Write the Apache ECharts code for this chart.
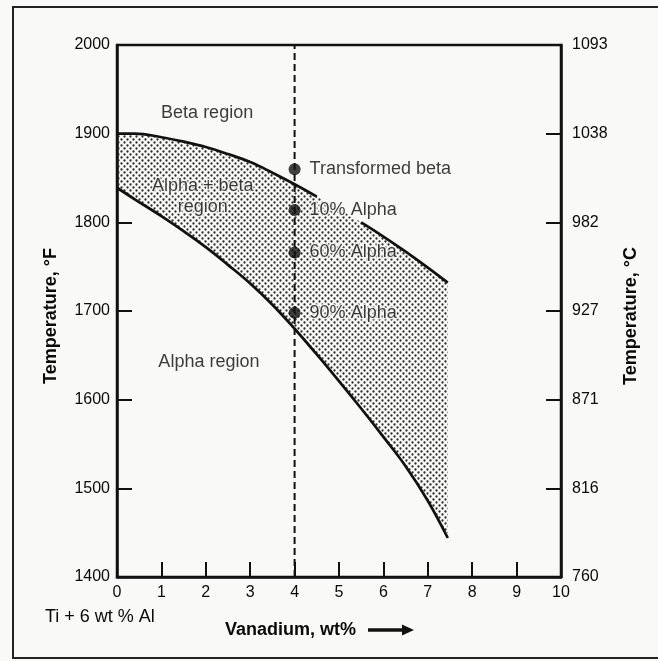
<!DOCTYPE html>
<html>
<head>
<meta charset="utf-8">
<script src="https://cdn.jsdelivr.net/npm/echarts@6/dist/echarts.min.js"></script>
<style>
html,body{margin:0;padding:0;background:#f9f9f7;}
#chart{width:658px;height:661px;}
</style>
</head>
<body>
<div id="chart"></div>
<script>
// ---- data ----
const vanadium      = [0, 0.4, 1, 1.5, 2, 2.5, 3, 3.5, 4, 4.5, 5, 5.5, 6, 6.5, 7, 7.45];
const betaTransusF  = [1900, 1900, 1896, 1891, 1885, 1877, 1868, 1856, 1843, 1829, 1815, 1800, 1784, 1767, 1749, 1732];
const alphaTransusF = [1839, 1826, 1807, 1790, 1772, 1752, 1731, 1707, 1680, 1651, 1621, 1590, 1558, 1525, 1486, 1444];
// vanadium range where the beta-transus line is hidden behind the "10% Alpha" label
const betaLineGap   = [4.5, 5.5];

const sampleVanadium = 4;
const sampleTempsF   = [1860, 1814, 1766, 1698];
const sampleLabels   = ['Transformed beta', '10% Alpha', '60% Alpha', '90% Alpha'];

const regionLabels = ['Beta region', 'Alpha + beta\nregion', 'Alpha region'];
const regionV      = [2.03, 1.93, 2.07];
const regionT      = [1923, 1829, 1643];

const xTicks  = [0, 1, 2, 3, 4, 5, 6, 7, 8, 9, 10];
const yTicksF = [1400, 1500, 1600, 1700, 1800, 1900, 2000];

// ---- helpers ----
function dotPattern() {
  const c = document.createElement('canvas');
  c.width = 6; c.height = 6;
  const g = c.getContext('2d');
  g.fillStyle = '#2a2a2a';
  [[1.5, 1.5], [4.5, 4.5]].forEach(function (p) {
    g.beginPath(); g.arc(p[0], p[1], 1.15, 0, Math.PI * 2); g.fill();
  });
  return c;
}
const pattern = dotPattern();
const toC = v => String(Math.round((v - 32) * 5 / 9));

const upperData = vanadium.map((v, i) => [v, betaTransusF[i]]);
const lowerData = vanadium.map((v, i) => [v, alphaTransusF[i]]);
const upperLeft  = upperData.filter(p => p[0] <= betaLineGap[0]);
const upperRight = upperData.filter(p => p[0] >= betaLineGap[1]);

const ink = '#111111';
const txt = '#0a0a0a';
const bg = '#f9f9f7';
const chart = echarts.init(document.getElementById('chart'));

const axisCommon = {
  type: 'value', min: yTicksF[0], max: yTicksF[yTicksF.length - 1], interval: 100,
  axisLine: { show: true, lineStyle: { color: ink, width: 2.5 } },
  axisTick: { show: true, inside: true, length: 15, lineStyle: { color: ink, width: 2 } },
  splitLine: { show: false }
};

const lineCommon = { type: 'line', smooth: 0.4, symbol: 'none', lineStyle: { color: ink, width: 2.7 }, z: 3 };

chart.setOption({
  animation: false,
  backgroundColor: bg,
  grid: { left: 117, top: 45, right: 97, bottom: 84, show: true, borderColor: ink, borderWidth: 2.5, backgroundColor: 'transparent' },
  xAxis: {
    type: 'value', min: xTicks[0], max: xTicks[xTicks.length - 1], interval: 1,
    axisLine: { show: true, lineStyle: { color: ink, width: 2.5 } },
    axisTick: { show: true, inside: true, length: 15, lineStyle: { color: ink, width: 2 } },
    axisLabel: { color: txt, fontSize: 16, fontFamily: 'Liberation Sans', margin: 8, formatter: v => String(v) },
    splitLine: { show: false }
  },
  yAxis: [
    Object.assign({}, axisCommon, {
      position: 'left',
      axisLabel: { color: txt, fontSize: 16, fontFamily: 'Liberation Sans', margin: 7, formatter: v => String(v) }
    }),
    Object.assign({}, axisCommon, {
      position: 'right',
      axisLabel: { color: txt, fontSize: 16, fontFamily: 'Liberation Sans', margin: 11, formatter: toC }
    })
  ],
  series: [
    {
      type: 'custom', name: 'alpha + beta field', z: 1, silent: true,
      data: [0],
      renderItem: function (params, api) {
        const pts = [];
        for (let i = 0; i < vanadium.length; i++) pts.push(api.coord([vanadium[i], betaTransusF[i]]));
        for (let i = vanadium.length - 1; i >= 0; i--) pts.push(api.coord([vanadium[i], alphaTransusF[i]]));
        return {
          type: 'polygon',
          shape: { points: pts },
          style: { fill: { image: pattern, repeat: 'repeat' }, stroke: null }
        };
      }
    },
    Object.assign({ name: 'alpha transus', data: lowerData }, lineCommon),
    Object.assign({ name: 'beta transus', data: upperLeft }, lineCommon),
    Object.assign({ name: 'beta transus ', data: upperRight }, lineCommon),
    {
      type: 'line', name: 'composition', data: [[sampleVanadium, yTicksF[0]], [sampleVanadium, yTicksF[yTicksF.length - 1]]],
      symbol: 'none', lineStyle: { color: ink, width: 2, type: [7, 4] }, z: 4
    },
    {
      type: 'scatter', name: 'samples', z: 6,
      data: sampleTempsF.map((t, i) => ({ value: [sampleVanadium, t], name: sampleLabels[i] })),
      symbolSize: 12, itemStyle: { color: ink },
      label: {
        show: true, position: 'right', distance: 9, formatter: p => p.name,
        fontSize: 18, fontFamily: 'Liberation Sans', color: txt,
        textBorderColor: bg, textBorderWidth: 3
      }
    },
    {
      type: 'scatter', name: 'regions', z: 6,
      data: regionLabels.map((s, i) => ({ value: [regionV[i], regionT[i]], name: s })),
      symbolSize: 1, itemStyle: { color: 'rgba(0,0,0,0)' },
      label: {
        show: true, position: 'inside', formatter: p => p.name,
        fontSize: 18, lineHeight: 21, fontFamily: 'Liberation Sans', color: txt,
        textBorderColor: bg, textBorderWidth: 3
      }
    }
  ],
  graphic: [
    { type: 'rect', shape: { x: 13, y: 7, width: 700, height: 651 }, style: { fill: 'none', stroke: '#222', lineWidth: 2 }, silent: true },
    { type: 'text', x: 51, y: 316, rotation: Math.PI / 2,
      style: { text: 'Temperature, °F', font: 'bold 18px "Liberation Sans"', fill: txt, align: 'center', verticalAlign: 'middle' } },
    { type: 'text', x: 631, y: 316, rotation: Math.PI / 2,
      style: { text: 'Temperature, °C', font: 'bold 18px "Liberation Sans"', fill: txt, align: 'center', verticalAlign: 'middle' } },
    { type: 'text', x: 45, y: 617,
      style: { text: 'Ti + 6 wt % Al', font: '18px "Liberation Sans"', fill: txt, align: 'left', verticalAlign: 'middle' } },
    { type: 'text', x: 225, y: 630,
      style: { text: 'Vanadium, wt%', font: 'bold 18px "Liberation Sans"', fill: txt, align: 'left', verticalAlign: 'middle' } },
    { type: 'line', shape: { x1: 368, y1: 630, x2: 404, y2: 630 }, style: { stroke: '#111', lineWidth: 3.5 } },
    { type: 'polygon', shape: { points: [[402, 624.5], [414, 630], [402, 635.5]] }, style: { fill: '#111' } }
  ]
});
</script>
</body>
</html>
